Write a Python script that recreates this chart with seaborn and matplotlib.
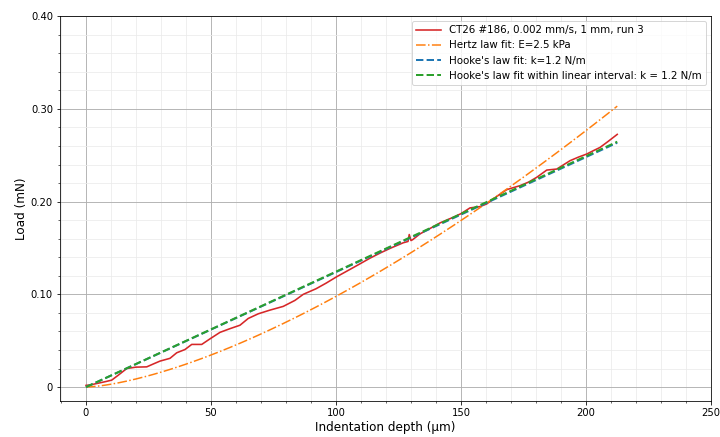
import numpy as np
import pandas as pd
import matplotlib
matplotlib.use("Agg")
import matplotlib.pyplot as plt
from matplotlib.ticker import MultipleLocator, FuncFormatter
import seaborn as sns

# Measured indentation curve (depth in µm, load in mN)
depth_um = [0, 2, 5.6, 8, 10.3, 13, 16.3, 20, 24.3, 27, 29.6, 33.6, 36.3, 39.6,
            42.3, 46.3, 49.6, 53.6, 57.6, 61.6, 64.9, 68.9, 73.6, 78.9, 83.6,
            86.9, 92, 96, 100.3, 105, 109, 113.6, 118, 122, 126.9, 128.8, 129.3,
            130, 130.7, 133.6, 137.6, 141.6, 146.9, 150, 153.6, 157.6, 160.3,
            164, 168.3, 173.6, 177, 180.3, 184.3, 188.3, 193.6, 197, 200.3, 203,
            205.6, 208.9, 212.5]
load_mN = [0.0018, 0.0025, 0.0046, 0.006, 0.0075, 0.013, 0.020, 0.0215, 0.0218,
           0.025, 0.028, 0.031, 0.037, 0.0405, 0.046, 0.046, 0.052, 0.059, 0.063,
           0.0667, 0.074, 0.079, 0.083, 0.087, 0.0935, 0.100, 0.106, 0.112, 0.119,
           0.126, 0.132, 0.139, 0.145, 0.150, 0.1556, 0.157, 0.1645, 0.158, 0.159,
           0.1652, 0.171, 0.177, 0.1831, 0.187, 0.1932, 0.1946, 0.1975, 0.205,
           0.2129, 0.2172, 0.221, 0.2262, 0.234, 0.2351, 0.2441, 0.248, 0.2513,
           0.255, 0.2584, 0.265, 0.2725]

# Fit parameters
E_kPa = 2.46            # Hertz elastic modulus
poisson = 0.5
sphere_radius_m = 0.5e-3
k_hooke = 1.24          # N/m, fit on full curve
k_linear = 1.245        # N/m, fit within linear interval

sample_label = "CT26 #186, 0.002 mm/s, 1 mm, run 3"

depth = np.asarray(depth_um)
delta_m = depth * 1e-6
hertz_mN = (4 / 3) * (E_kPa * 1e3) / (1 - poisson ** 2) * np.sqrt(sphere_radius_m) * delta_m ** 1.5 * 1e3
hooke_mN = k_hooke * delta_m * 1e3
linear_mN = k_linear * delta_m * 1e3

df = pd.DataFrame({"depth": depth, "load": load_mN, "hertz": hertz_mN,
                   "hooke": hooke_mN, "linear": linear_mN})

fig = plt.figure(figsize=(10, 6.07), dpi=72)
ax = fig.add_axes([0.0833, 0.0824, 0.9042, 0.8806])

sns.lineplot(data=df, x="depth", y="load", ax=ax, color="tab:red", lw=1.6,
             label=sample_label)
sns.lineplot(data=df, x="depth", y="hertz", ax=ax, color="tab:orange", lw=1.5,
             linestyle="-.", label=f"Hertz law fit: E={E_kPa:.1f} kPa")
sns.lineplot(data=df, x="depth", y="hooke", ax=ax, color="tab:blue", lw=2,
             linestyle="--", label=f"Hooke's law fit: k={k_hooke:.1f} N/m")
sns.lineplot(data=df, x="depth", y="linear", ax=ax, color="tab:green", lw=2,
             linestyle="--",
             label=f"Hooke's law fit within linear interval: k = {k_linear:.1f} N/m")

ax.set_xlim(-10.4, 250)
ax.set_ylim(-0.015, 0.40)
ax.xaxis.set_major_locator(MultipleLocator(50))
ax.xaxis.set_minor_locator(MultipleLocator(10))
ax.yaxis.set_major_locator(MultipleLocator(0.10))
ax.yaxis.set_minor_locator(MultipleLocator(0.02))
ax.yaxis.set_major_formatter(FuncFormatter(lambda v, _: "0" if abs(v) < 1e-9 else f"{v:.2f}"))
ax.tick_params(labelsize=10)

ax.grid(which="major", color="#b0b0b0", lw=0.9)
ax.grid(which="minor", color="#ebebeb", lw=0.8)
ax.set_axisbelow(True)

ax.set_xlabel("Indentation depth (µm)", fontsize=12, labelpad=3)
ax.set_ylabel("Load (mN)", fontsize=12, labelpad=3)
ax.legend(loc="upper right", fontsize=10.2, handlelength=2.4)

fig.savefig("out.png", dpi=72)
